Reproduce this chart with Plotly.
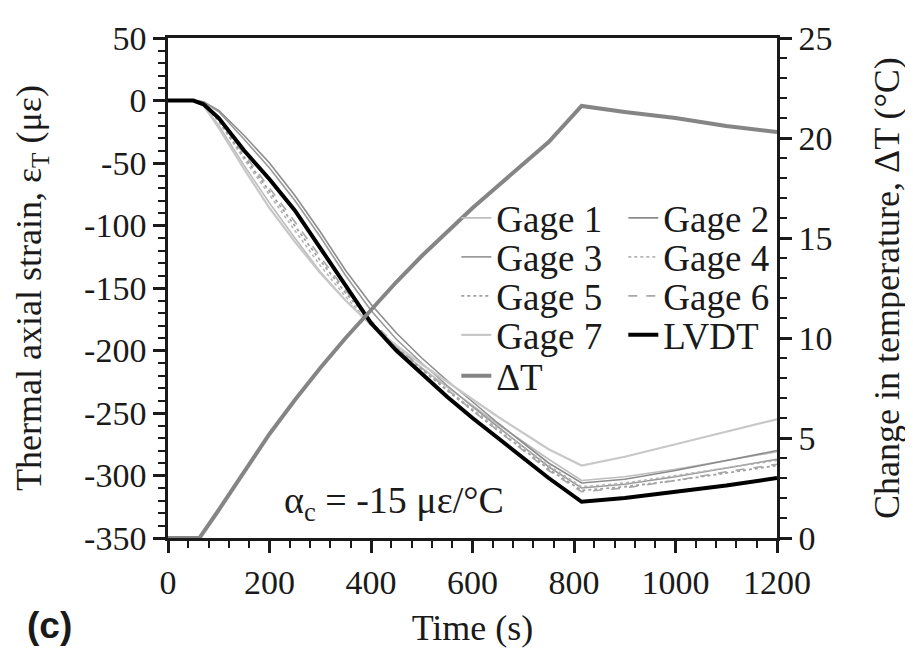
import plotly.graph_objects as go

# ---------------- data ----------------
time_s = [0, 50, 70, 100, 150, 200, 250, 300, 350, 400, 450, 500, 550, 600, 650, 700, 750, 815, 900, 1000, 1100, 1200]

gage1 = [0, 0, -4, -20, -52, -82, -110, -137, -160, -180, -198, -214, -229, -244, -259, -273, -287, -304, -301, -295, -288, -281]
gage2 = [0, 0, -1, -8, -28, -50, -76, -105, -136, -163, -186, -206, -224, -241, -258, -274, -290, -306, -303, -296, -288, -280]
gage3 = [0, 0, -1, -9, -31, -54, -80, -109, -140, -168, -191, -210, -228, -245, -261, -277, -293, -310, -307, -301, -294, -287]
gage4 = [0, 0, -3, -17, -47, -76, -104, -132, -157, -179, -198, -215, -231, -247, -262, -277, -292, -309, -306, -300, -294, -288]
gage5 = [0, 0, -3, -16, -45, -73, -100, -128, -154, -177, -197, -215, -232, -248, -264, -279, -295, -312, -309, -304, -298, -292]
gage6 = [0, 0, -2, -15, -43, -70, -97, -125, -152, -176, -196, -214, -231, -248, -264, -280, -296, -313, -310, -304, -297, -291]
gage7 = [0, 0, -4, -22, -55, -86, -113, -138, -160, -179, -196, -211, -225, -239, -253, -266, -279, -292, -285, -275, -265, -255]
lvdt = [0, 0, -3, -14, -40, -63, -88, -118, -149, -178, -200, -219, -237, -254, -270, -286, -302, -321, -318, -313, -308, -302]

dt_time = [0, 62, 100, 150, 200, 250, 300, 350, 400, 450, 500, 550, 600, 650, 700, 750, 815, 900, 1000, 1100, 1200]
delta_T = [0, 0, 1.4, 3.3, 5.2, 6.9, 8.5, 10.0, 11.4, 12.8, 14.1, 15.3, 16.5, 17.6, 18.7, 19.8, 21.6, 21.3, 21.0, 20.6, 20.3]

x_ticks = [0, 200, 400, 600, 800, 1000, 1200]
y_ticks = [50, 0, -50, -100, -150, -200, -250, -300, -350]
y_ticklabels = ["50", "0", "-50", "-100", "-150", "-200", "-250", "-300", "-350"]
y2_ticks = [0, 5, 10, 15, 20, 25]

FONT = "Liberation Serif, Times New Roman, serif"
TXT = "#1a1a1a"

# page offset of the plotly div (body margin) is 8 px; figure size reduced to fit window
W, H = 905, 646
ML, MR, MT, MB = 160, 124, 21, 112
PW = W - ML - MR
PH = H - MT - MB

fig = go.Figure()

series = [
    ("Gage 1", gage1, "#bdbdbd", 1.6, "solid", "legend"),
    ("Gage 2", gage2, "#8c8c8c", 1.6, "solid", "legend"),
    ("Gage 3", gage3, "#9a9a9a", 1.6, "solid", "legend2"),
    ("Gage 4", gage4, "#b5b5b5", 1.6, "dot", "legend2"),
    ("Gage 5", gage5, "#a0a0a0", 1.8, "dot", "legend3"),
    ("Gage 6", gage6, "#a8a8a8", 1.6, "dash", "legend3"),
    ("Gage 7", gage7, "#c8c8c8", 2.2, "solid", "legend4"),
    ("LVDT", lvdt, "#000000", 4, "solid", "legend4"),
]
for name, vals, col, w, dash, lg in series:
    fig.add_trace(go.Scatter(x=time_s, y=vals, name=name, mode="lines",
                             line=dict(color=col, width=w, dash=dash), legend=lg))

fig.add_trace(go.Scatter(x=dt_time, y=delta_T, name="ΔT", mode="lines",
                         line=dict(color="#858585", width=4), yaxis="y2", legend="legend5"))

axis_common = dict(
    showgrid=False, zeroline=False, showline=True, linecolor=TXT, linewidth=2.5,
    ticks="outside", tickcolor=TXT, tickwidth=2.5, ticklen=12,
    tickfont=dict(family=FONT, size=34, color=TXT),
)

legend_common = dict(orientation="h", bgcolor="rgba(0,0,0,0)", borderwidth=0,
                     font=dict(family=FONT, size=37, color=TXT),
                     entrywidth=122, entrywidthmode="pixels",
                     xanchor="left", yanchor="middle", itemclick=False)

def px_x(page_x):
    return (page_x - 8 - ML) / PW

def px_y(page_y):
    return (H - MB - (page_y - 8)) / PH

LEG_X = px_x(462)

fig.update_layout(
    width=W, height=H,
    margin=dict(l=ML, r=MR, t=MT, b=MB),
    paper_bgcolor="white", plot_bgcolor="white",
    font=dict(family=FONT, color=TXT),
    xaxis=dict(range=[0, 1200], tickvals=x_ticks, mirror=True,
               minor=dict(dtick=40, tick0=0, ticks="outside", ticklen=7, tickwidth=2, tickcolor=TXT),
               title=dict(text="Time (s)", font=dict(family=FONT, size=36, color=TXT), standoff=16),
               **axis_common),
    yaxis=dict(range=[-350, 50], tickvals=y_ticks, ticktext=y_ticklabels,
               minor=dict(dtick=10, tick0=0, ticks="outside", ticklen=7, tickwidth=2, tickcolor=TXT),
               title=dict(text="Thermal axial strain, ε<sub>T</sub> (με)",
                          font=dict(family=FONT, size=36, color=TXT), standoff=32),
               **axis_common),
    yaxis2=dict(range=[0, 25], tickvals=y2_ticks, overlaying="y", side="right", anchor="x",
                minor=dict(dtick=1, tick0=0, ticks="outside", ticklen=7, tickwidth=2, tickcolor=TXT),
                title=dict(text="Change in temperature, ΔT (°C)",
                           font=dict(family=FONT, size=36, color=TXT), standoff=43),
                **axis_common),
    legend=dict(x=LEG_X, y=px_y(214), **legend_common),
    legend2=dict(x=LEG_X, y=px_y(254), **legend_common),
    legend3=dict(x=LEG_X, y=px_y(294), **legend_common),
    legend4=dict(x=LEG_X, y=px_y(334), **legend_common),
    legend5=dict(x=LEG_X, y=px_y(376), **legend_common),
    showlegend=True,
    annotations=[
        dict(text="α<sub>c</sub> = -15 με/°C", x=445, y=-322,
             xref="x", yref="y", showarrow=False, xanchor="center", yanchor="middle",
             font=dict(family=FONT, size=38, color=TXT)),
        dict(text="<b>(c)</b>", x=px_x(47), y=px_y(632), xref="paper", yref="paper",
             showarrow=False, xanchor="center", yanchor="middle",
             font=dict(family="Liberation Sans, Arial, sans-serif", size=37, color=TXT)),
    ],
)

fig.write_html("out.html")
